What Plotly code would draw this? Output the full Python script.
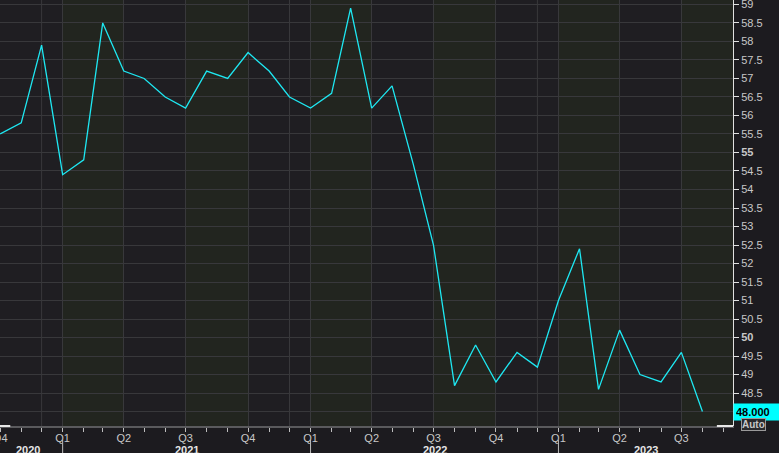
import pandas as pd
import plotly.graph_objs as go

# monthly readings, Oct 2020 .. Aug 2023
months = pd.date_range("2020-10-01", "2023-08-01", freq="MS")
values = [55.5, 55.8, 57.9,
          54.4, 54.8, 58.5, 57.2, 57.0, 56.5, 56.2, 57.2, 57.0, 57.7, 57.2, 56.5,
          56.2, 56.6, 58.9, 56.2, 56.8, 54.7, 52.5, 48.7, 49.8, 48.8, 49.6, 49.2,
          51.0, 52.4, 48.6, 50.2, 49.0, 48.8, 49.6, 48.0]

quarter_starts = ["2020-10-01", "2021-01-01", "2021-04-01", "2021-07-01", "2021-10-01",
                  "2022-01-01", "2022-04-01", "2022-07-01", "2022-10-01",
                  "2023-01-01", "2023-04-01", "2023-07-01"]
quarter_labels = ["Q4", "Q1", "Q2", "Q3", "Q4", "Q1", "Q2", "Q3", "Q4", "Q1", "Q2", "Q3"]
extra_grid = ["2020-12-01", "2021-12-01", "2022-12-01"]
years = ["2020", "2021", "2022", "2023"]
year_starts = ["2021-01-01", "2022-01-01", "2023-01-01"]

y_ticks = [48, 48.5, 49, 49.5, 50, 50.5, 51, 51.5, 52, 52.5, 53, 53.5,
           54, 54.5, 55, 55.5, 56, 56.5, 57, 57.5, 58, 58.5, 59]
y_labels = ["48", "48.5", "49", "49.5", "<b>50</b>", "50.5", "51", "51.5", "52", "52.5",
            "53", "53.5", "54", "54.5", "<b>55</b>", "55.5", "56", "56.5", "57", "57.5",
            "58", "58.5", "59"]

x_start = pd.Timestamp("2020-09-30 18:00")
x_end = pd.Timestamp("2023-09-15")

fig = go.Figure()
fig.add_trace(go.Scatter(x=months, y=values, mode="lines",
                         line=dict(color="#1ee8f2", width=1.3), hoverinfo="skip"))

shapes = []
# shade Q1 / Q3 bands
for i, q in enumerate(quarter_starts):
    if quarter_labels[i] in ("Q1", "Q3"):
        q_end = pd.Timestamp(q) + pd.DateOffset(months=3)
        shapes.append(dict(type="rect", xref="x", yref="paper", x0=q, x1=min(q_end, x_end),
                           y0=0, y1=1, fillcolor="#22251f", line_width=0, layer="below"))
for d in extra_grid:
    shapes.append(dict(type="line", xref="x", yref="paper", x0=d, x1=d, y0=0, y1=1,
                       line=dict(color="#38383b", width=1), layer="below"))
# year separators under the axis
for d in year_starts:
    shapes.append(dict(type="line", xref="x", yref="paper", x0=d, x1=d, y0=-0.033, y1=-0.07,
                       line=dict(color="#bdbdbd", width=1)))
# bright ends of the bottom axis line
shapes.append(dict(type="line", xref="paper", yref="paper", x0=0, x1=0.014, y0=0, y1=0,
                   line=dict(color="#e8e8e8", width=2)))
shapes.append(dict(type="line", xref="paper", yref="paper", x0=0.978, x1=1.0, y0=0, y1=0,
                   line=dict(color="#e8e8e8", width=2)))

annotations = []
year_bounds = [x_start] + [pd.Timestamp(d) for d in year_starts] + [x_end]
for i, yr in enumerate(years):
    mid = year_bounds[i] + (year_bounds[i + 1] - year_bounds[i]) / 2
    annotations.append(dict(x=mid, y=-0.057, xref="x", yref="paper", text="<b>" + yr + "</b>",
                            showarrow=False, yanchor="middle", xshift=-3 if i == 0 else 0,
                            font=dict(color="#e6e6e6", size=11, family="Liberation Sans")))
annotations.append(dict(x=1.0, y=values[-1], xref="paper", yref="y", xanchor="left",
                        yanchor="middle", text="<b>%.3f</b>" % values[-1], showarrow=False,
                        bgcolor="#00ffff", width=44, align="left", borderpad=2,
                        font=dict(color="#000000", size=11, family="Liberation Sans")))
annotations.append(dict(x=1.0, y=0, xref="paper", yref="paper", xanchor="left", yanchor="top",
                        xshift=8, yshift=8, text="<b>Auto</b>", showarrow=False,
                        bordercolor="#9a9a9a", borderwidth=1, borderpad=0, bgcolor="#2a2a2d",
                        font=dict(color="#c8c8c8", size=10, family="Liberation Sans")))

fig.update_layout(
    width=779, height=453,
    margin=dict(l=0, r=46, t=0, b=27),
    paper_bgcolor="#1c1b1f", plot_bgcolor="#1f1e22",
    showlegend=False,
    shapes=shapes, annotations=annotations,
    font=dict(family="Liberation Sans", size=11, color="#c8c8c8"),
)
fig.update_xaxes(
    range=[x_start, x_end], tickvals=quarter_starts, ticktext=quarter_labels,
    showgrid=True, gridcolor="#38383b", gridwidth=1,
    showline=True, linecolor="#5a5a5d", linewidth=2,
    ticks="outside", ticklen=4, tickcolor="#bdbdbd", ticklabeloverflow="allow",
    ticklabelstandoff=-3,
    minor=dict(dtick="M1", ticks="outside", ticklen=4, tickcolor="#bdbdbd", showgrid=False),
    tickfont=dict(color="#c8c8c8", size=11), automargin=False, zeroline=False,
)
fig.update_yaxes(
    range=[47.61, 59.12], side="right", tickvals=y_ticks, ticktext=y_labels,
    showgrid=True, gridcolor="#38383b", gridwidth=1,
    showline=True, linecolor="#e0e0e0", linewidth=1,
    ticks="outside", ticklen=5, tickcolor="#e0e0e0", ticklabeloverflow="allow",
    tickfont=dict(color="#c8c8c8", size=11), automargin=False, zeroline=False,
)

fig.write_html("out.html", config={"displayModeBar": False},
               post_script="document.body.style.margin='0';")
